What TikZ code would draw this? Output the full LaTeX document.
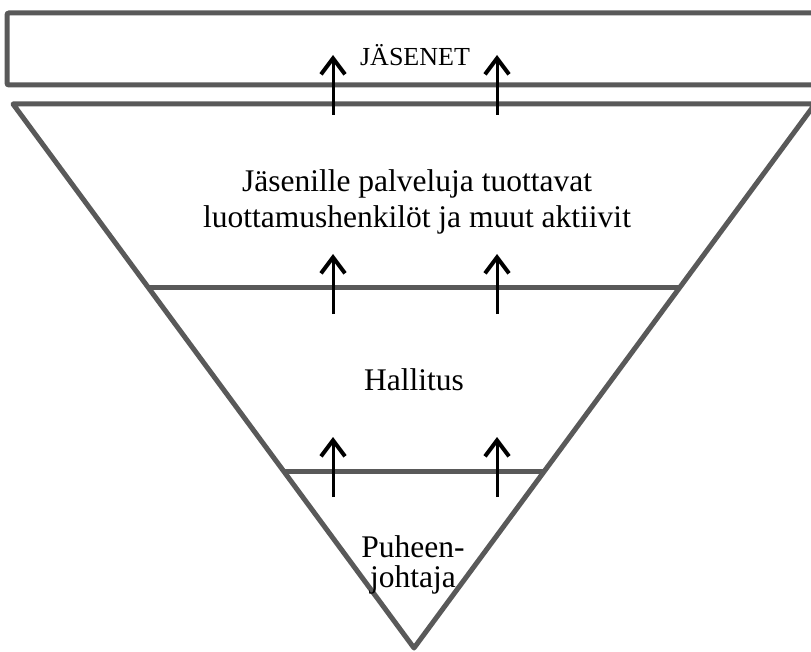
\documentclass[tikz,border=0pt]{standalone}
\usepackage{fontspec}
\setmainfont{Liberation Serif}
\usetikzlibrary{arrows.meta,calc,positioning}
\definecolor{linegray}{RGB}{89,89,89}

\begin{document}
\begin{tikzpicture}[
			x=1pt, y=-1pt,
			>={Straight Barb[length=16pt,width=24pt,line width=4pt]},
			frame/.style={draw=linegray, line width=5pt},
			up/.style={->, line width=3pt, black},
			label/.style={font=\fontsize{31.5}{36}\selectfont, align=center, inner sep=0pt, anchor=base}
			]
			\useasboundingbox (0,0) rectangle (811,652);
			
			% members bar, runs past the right edge
			\draw[frame, rounded corners=2pt] (830,13) -- (7,13) -- (7,85) -- (830,85);
			
			\coordinate (tl)  at (13,104);
			\coordinate (tr)  at (815,104);
			\coordinate (tip) at (414,648);
			\draw[frame, line join=round] (tl) -- (tr) -- (tip) -- cycle;
			
			\draw[frame] ($(tl)!0.338!(tip)$) -- ($(tr)!0.338!(tip)$);
			\draw[frame] ($(tl)!0.675!(tip)$) -- ($(tr)!0.675!(tip)$);
			
			% base anchor of a two-line node sits on its last line
			\node[label, font=\fontsize{26}{30}\selectfont] (members) at (415,66) {JÄSENET};
			\node[label] (services) at (417,228) {Jäsenille palveluja tuottavat\\luottamushenkilöt ja muut aktiivit};
			\node[label] (board) at (414,390) {Hallitus};
			\node[label, font=\fontsize{31.5}{30}\selectfont] (chair) at (413,587) {Puheen-\\johtaja};
			
			\foreach \ax in {333,497} {
				\draw[up] (\ax,115) -- (\ax,55);
				\draw[up] (\ax,314) -- (\ax,254);
				\draw[up] (\ax,497) -- (\ax,437);
			}
		\end{tikzpicture}
\end{document}
